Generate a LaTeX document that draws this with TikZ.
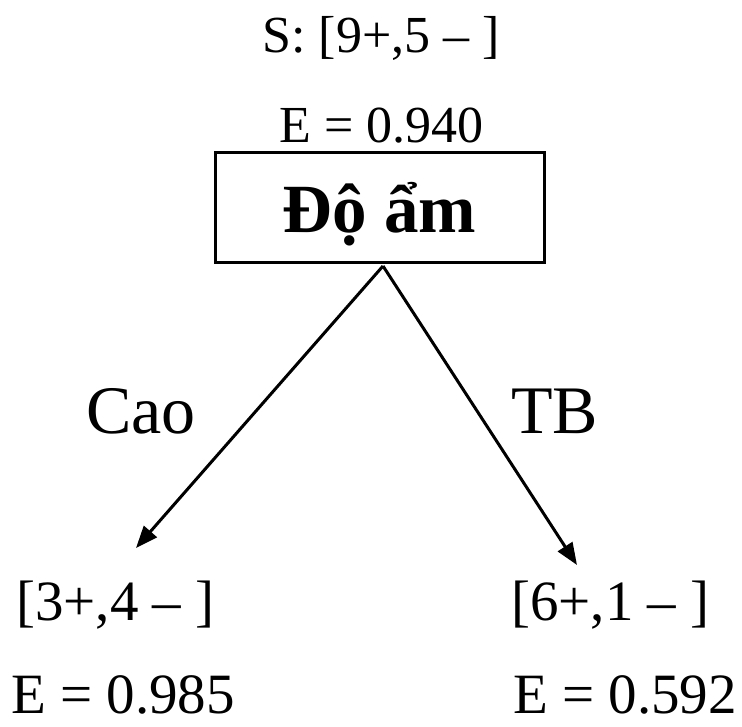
\documentclass[tikz,border=0pt]{standalone}
\usepackage{fontspec}
\setmainfont{Liberation Serif}
\usetikzlibrary{arrows.meta}
\begin{document}
\begin{tikzpicture}[x=1pt,y=-1pt,
  toplbl/.style={inner sep=0pt,anchor=base,font=\fontsize{52}{60}\selectfont},
  botlbl/.style={inner sep=0pt,anchor=base west,font=\fontsize{57}{66}\selectfont},
  edgelbl/.style={inner sep=0pt,anchor=base west,font=\fontsize{68}{78}\selectfont},
  boxnode/.style={draw,line width=3pt,minimum width=329pt,minimum height=110pt,inner sep=0pt,
    text height=55pt,text depth=5pt,font=\fontsize{69}{78}\selectfont\bfseries},
  arr/.style={line width=3pt,-{Triangle[length=22pt,width=17pt]}}]
\useasboundingbox (0,0) rectangle (742,726);
\node[toplbl] (s) at (381,52) {S: [9+,5 – ]};
\node[toplbl] (e0) at (381.5,142) {E = 0.940};
\node[boxnode] (box) at (379.5,207) {Độ ẩm};
\coordinate (apex) at (383,266);
\coordinate (tipL) at (136,548);
\coordinate (tipR) at (577,565);
\draw[arr] (apex) -- (tipL);
\draw[arr] (apex) -- (tipR);
\node[edgelbl] (cao) at (86,433) {Cao};
\node[edgelbl] (tb) at (511,433) {TB};
\node[botlbl] (l1) at (16,620) {[3+,4 – ]};
\node[botlbl] (l2) at (11,713) {E = 0.985};
\node[botlbl] (r1) at (511,620) {[6+,1 – ]};
\node[botlbl] (r2) at (513,713) {E = 0.592};
\end{tikzpicture}
\end{document}
